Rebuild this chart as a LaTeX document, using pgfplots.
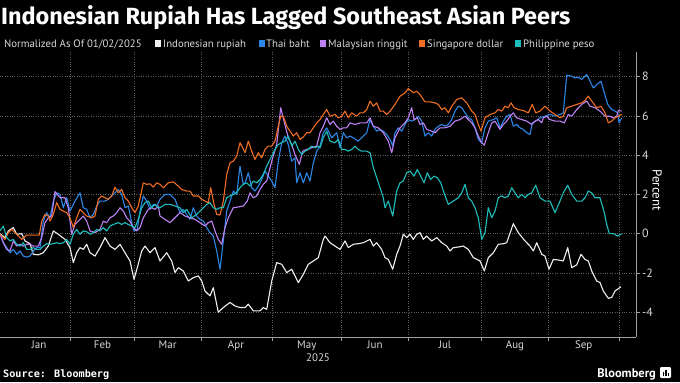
\documentclass[border=0pt]{standalone}
\usepackage{pgfplots}
\pgfplotsset{compat=1.18}
\usepackage{fontspec}
\setmainfont{PT Sans}
\newfontfamily\titlefont{Fira Sans}
\newfontfamily\monofont{DejaVu Sans Mono}
\definecolor{idr}{RGB}{240,240,240}
\definecolor{thb}{RGB}{45,135,230}
\definecolor{myr}{RGB}{190,130,245}
\definecolor{sgd}{RGB}{240,110,35}
\definecolor{php}{RGB}{30,190,190}
\definecolor{gridc}{RGB}{95,95,95}
\definecolor{axc}{RGB}{160,160,160}
\definecolor{txt}{RGB}{215,215,215}
\begin{document}
\begin{tikzpicture}[x=1bp,y=1bp]
\fill[black] (0,0) rectangle (680,382);
\begin{axis}[at={(0bp,45bp)}, anchor=south west, scale only axis,
  width=636bp, height=285bp,
  xmin=0, xmax=636, ymin=-5.26, ymax=9.25,
  axis x line=bottom, axis y line=right,
  axis line style={-, draw=axc, line width=0.6bp},
  tick align=outside, major tick length=3.5bp,
  tick style={draw=axc, line width=0.6bp},
  xtick={70.7,134.4,200.8,271.9,341.7,408.5,481.4,548.6,618.8},
  xticklabels={},
  extra x ticks={39,102.5,167.6,236,306.8,375,445,515,583.7},
  extra x tick labels={Jan,Feb,Mar,Apr,May,Jun,Jul,Aug,Sep},
  extra x tick style={major tick length=0pt, grid=none, tick style={draw=none}},
  ytick={-4,-2,0,2,4,6,8},
  yticklabels={-4,-2,0,2,4,6,8},
  xmajorgrids, ymajorgrids,
  grid style={gridc, dotted, line width=0.5bp},
  ticklabel style={font=\fontsize{11}{13}\selectfont, text=txt},
  yticklabel style={font=\fontsize{12}{14}\selectfont, xshift=-1bp},
  every axis plot/.append style={line width=1.1bp, line join=round},
  clip=false,
]
\addplot[idr] coordinates {(0,0) (5,-0.2) (8.3,0.14) (13.3,0.31) (16.7,-0.03) (21.7,0) (25,-0.37) (30,-0.51) (33.3,-1.05) (38.3,-1.08) (43.3,-0.97) (48.3,-0.63) (53.3,0.14) (58.3,-0.03) (65,-0.29) (70,-0.71) (73.3,-1.47) (76.7,-0.97) (80,-0.71) (83.3,-0.8) (86.7,-0.54) (90,-0.97) (95,-1.14) (100,-0.71) (105,-0.2) (110,-0.63) (115,-0.8) (120,-0.54) (125,-0.97) (130,-1.39) (134,-2.32) (137.3,-1.73) (141.7,-0.88) (145,-0.63) (150,-0.97) (155,-0.71) (160,-1.39) (166.7,-0.97) (171.7,-1.39) (175,-1.98) (178.3,-1.73) (183.3,-1.9) (188.3,-2.41) (193.3,-2.24) (198.3,-2.15) (201.7,-2.41) (205,-2.92) (210,-3.17) (213.3,-2.75) (218.3,-4.0) (223.3,-3.76) (230,-3.5) (235,-3.68) (240,-3.76) (245,-3.76) (248.3,-3.59) (253.3,-3.93) (260,-3.93) (263.3,-3.76) (266.7,-3.85) (271.7,-2.41) (276.7,-1.47) (281.7,-1.56) (286.7,-1.98) (291.7,-1.81) (298.3,-2.49) (303.3,-2.07) (308.3,-1.56) (313.3,-1.39) (318.3,-1.22) (323.3,-0.29) (325,-0.12) (330,-0.46) (335,-0.63) (340,-0.8) (345,-0.37) (348.3,-0.71) (353.3,-0.54) (358.3,-0.51) (363.3,-0.46) (370,-0.29) (373.3,-0.63) (376.7,-0.46) (381.7,-0.8) (385,-1.22) (388.3,-1.31) (392.7,-1.81) (396.7,-1.05) (400,-0.63) (403.3,-0.03) (406.7,-0.2) (410,-0.03) (413.3,-0.29) (416.7,-0.03) (420,0.05) (423.3,-0.29) (426.7,-0.12) (431.7,-0.37) (436.7,-0.2) (441.7,-0.46) (446.7,-0.63) (450,-0.88) (453.3,-0.71) (458.3,-0.68) (463.3,-0.63) (468.3,-0.8) (473.3,-1.22) (480,-1.39) (484.3,-1.9) (488.3,-1.22) (493.3,-0.97) (498.3,-0.54) (503.3,-0.51) (506.7,-0.46) (513.3,0.51) (518.3,0.05) (525,-0.37) (530,-0.63) (533.3,-0.88) (536.7,-0.46) (541.7,-1.05) (545,-1.14) (549,-1.81) (553.3,-1.31) (558.3,-1.34) (563.3,-1.39) (567.7,-0.71) (571.7,-1.73) (576.7,-1.59) (581,-1.05) (585,-1.31) (588.3,-1.39) (591.7,-1.9) (596.7,-2.41) (600,-2.49) (603.3,-2.92) (608.3,-3.29) (611.7,-3.25) (615,-2.92) (621,-2.7)};
\addplot[thb] coordinates {(0,0) (3.3,-0.46) (6.7,-0.71) (10,-0.97) (13.3,-0.8) (16.7,-1.05) (20,-0.88) (23.3,-1.14) (26.7,-1.19) (30,-1.14) (33.3,-0.88) (36.7,-0.71) (40,-0.71) (43.3,0.64) (46.7,1.07) (50,0.81) (53.3,1.66) (56.7,2.08) (60,2.0) (63.3,1.32) (66.7,1.83) (70,1.15) (75,1.66) (80,2.08) (83.3,1.32) (86.7,1.24) (90,0.81) (93.3,0.98) (96.7,1.41) (100,1.66) (105,1.66) (108.3,1.75) (111.7,1.92) (115,2.08) (118.3,2.25) (121.7,2.0) (125,1.32) (128.3,1.41) (131.7,0.56) (134,0.14) (137.3,0.22) (140,1.15) (143.3,1.92) (146.7,1.66) (150,1.24) (153.3,1.49) (156.7,1.41) (160,1.75) (165,2.0) (170,2.0) (175,1.75) (180,1.07) (183.3,1.24) (186.7,0.98) (190,0.73) (193.3,1.32) (196.7,0.9) (200,0.73) (203.3,0.64) (206.7,0.31) (210,0.05) (213.3,-0.12) (216.7,-0.88) (220,-1.81) (223.3,-0.37) (226.7,1.15) (230,1.66) (233.3,2.17) (236.7,2.0) (240,3.44) (243.3,2.51) (245,2.59) (248.3,3.1) (251.7,2.34) (255,2.17) (258.3,2.42) (261.7,2.76) (265,3.19) (268.3,2.93) (271.7,2.68) (275,2.34) (278.3,3.69) (281.7,4.63) (285,4.97) (288.3,4.54) (291.7,3.69) (295,3.86) (296.7,2.59) (300,3.1) (303.3,2.59) (306.7,3.1) (310,2.68) (313.3,3.61) (316.7,4.2) (320,4.46) (323.3,5.14) (326.7,5.39) (331.7,4.88) (336.7,5.14) (340,4.37) (343.3,5.14) (346.7,4.88) (350,4.97) (353.3,4.88) (358.3,4.71) (363.3,4.97) (366.7,5.14) (370,5.81) (373.3,5.47) (376.7,5.22) (380,5.31) (383.3,5.22) (386.7,5.05) (390,4.8) (392.7,4.46) (395,5.14) (398.3,5.39) (401.7,5.22) (405,5.56) (408.3,5.81) (411.7,5.73) (415,5.81) (418.3,5.98) (421.7,5.73) (425,4.97) (428.3,5.14) (431.7,4.97) (435,5.31) (438.3,5.47) (441.7,5.56) (445,5.47) (448.3,5.56) (451.7,5.81) (455,6.24) (458.3,6.49) (461.7,6.41) (465,6.15) (468.3,5.9) (471.7,5.81) (475,5.39) (478.3,4.8) (481.7,4.63) (485,5.39) (488.3,5.73) (493.3,5.81) (496.7,5.9) (500,5.39) (503.3,5.73) (506.7,5.98) (510,6.07) (513.3,5.47) (516.7,5.56) (520,5.39) (523.3,5.31) (526.7,5.14) (530,5.05) (532.3,5.64) (535.7,5.73) (540,5.9) (545,5.98) (550,6.07) (555,5.98) (560,6.07) (563.3,6.15) (566.7,8.07) (571.7,8.02) (575,7.93) (578.3,7.97) (581.7,7.85) (586.7,8.1) (590,7.76) (593.3,7.42) (596.7,7.59) (601,7.76) (604.3,7.17) (607.7,6.58) (611.7,6.32) (615,6.24) (617.7,6.15) (619,5.64) (621.7,5.9)};
\addplot[myr] coordinates {(0,0) (3.3,-0.46) (6.7,-0.8) (10,-0.88) (13.3,-0.37) (16.7,-0.63) (20,-0.54) (23.3,-0.63) (26.7,-0.54) (30,-0.54) (33.3,-0.63) (38.3,-0.63) (41.7,-0.2) (45,0.56) (48.3,0.81) (51.7,0.9) (55,2.14) (60,1.83) (65,1.83) (68.3,1.32) (71.7,-0.03) (75,0.47) (80,0.73) (83.3,0.9) (86.7,0.64) (90,0.14) (95,0.05) (100,0.22) (103.3,0.64) (106.7,0.56) (110,0.81) (113.3,0.9) (116.7,1.07) (120,1.32) (123.3,1.15) (126.7,0.81) (130,0.64) (133.3,0.31) (136.7,0.14) (140,0.31) (143.3,0.81) (148.3,1.24) (151.7,1.32) (155,1.24) (158.3,1.41) (160,0.9) (165,0.73) (170,0.56) (175,0.81) (180,1.07) (185,0.9) (190,0.81) (195,0.73) (200,0.56) (205,0.39) (208.3,0.56) (211.7,0.64) (215,0.14) (218.3,-0.29) (221.7,-0.54) (225,0.31) (228.3,0.81) (233.3,1.32) (238.3,1.36) (243.3,1.41) (247.3,1.66) (250,2.08) (253.3,1.83) (256.7,1.92) (260,2.25) (263.3,2.51) (266.7,2.68) (271.7,3.69) (276.7,4.54) (280.7,6.41) (284,5.73) (288.3,4.88) (291.7,4.54) (295,4.03) (299.3,3.53) (302.7,4.2) (306.7,4.29) (311.7,4.37) (316.7,4.46) (320,5.14) (323.3,5.47) (326.7,5.9) (330,5.56) (333.3,5.73) (336.7,5.47) (340,5.31) (343.3,5.39) (346.7,5.39) (350,5.64) (355,5.56) (360,5.64) (366.7,5.64) (370,5.9) (373.3,5.47) (378.3,5.39) (383.3,5.14) (388.3,4.71) (391.7,4.12) (395,4.88) (400,5.39) (405,5.64) (408.3,5.9) (411.7,6.41) (414,5.81) (417.3,5.9) (420,5.56) (423.3,5.64) (426.7,5.31) (431.7,5.22) (435,5.14) (440,5.39) (445,5.39) (450,5.47) (455,5.73) (460,5.81) (465,5.98) (468.3,5.81) (471.7,5.64) (475,5.39) (478.3,4.97) (481.7,4.63) (484.3,4.51) (488.3,5.14) (491.7,5.64) (495,5.73) (500,5.31) (503.3,5.56) (506.7,5.73) (510,5.98) (513.3,6.15) (516.7,5.9) (521.7,5.81) (526.7,5.73) (531.7,5.56) (535,5.73) (538.3,5.81) (541.7,5.64) (543.3,5.9) (546.7,5.98) (550,5.81) (555,5.73) (560,5.73) (564.3,5.64) (568.3,6.07) (571.7,5.98) (576.7,6.32) (581.7,6.58) (586.7,6.75) (590,6.49) (595,6.41) (600,6.24) (605,5.98) (610,5.98) (613.3,5.9) (616.7,5.98) (618.3,6.27) (621.7,6.24)};
\addplot[sgd] coordinates {(0,-0.03) (5,-0.29) (8.3,0.05) (11.7,0.22) (16.7,-0.03) (21.7,-0.29) (26.7,-0.07) (33.3,-0.07) (39.3,-0.07) (41.7,0.64) (45,0.98) (48.3,0.9) (50,0.64) (53.3,0.98) (56.7,1.58) (60,1.24) (63.3,1.15) (66.7,1.07) (70,0.81) (73.3,0.31) (76.7,0.81) (80,1.24) (83.3,1.07) (86.7,0.9) (91.7,0.81) (95,0.9) (98.3,1.75) (101.7,1.92) (105,1.83) (108.3,1.75) (111.7,1.92) (115,2.37) (118.3,2.08) (121.7,2.25) (125,1.83) (128.3,1.66) (131.7,1.32) (135,1.07) (138.3,1.41) (143.3,2.59) (146.7,2.51) (150,2.54) (153.3,2.37) (156.7,2.59) (160,2.51) (163.3,2.34) (168.3,2.59) (173.3,2.64) (178.3,2.42) (181.7,2.25) (186.7,2.17) (190,2.17) (193.3,1.92) (198.3,1.92) (201.7,1.75) (205,1.66) (208.3,1.58) (210.7,2.34) (213.3,1.66) (216.7,0.98) (220,0.95) (223.3,1.66) (226.7,3.02) (230,3.61) (233.3,3.69) (236.7,3.95) (240,4.63) (242.7,4.37) (245,4.12) (248.3,4.71) (251.7,4.2) (255,3.78) (258.3,4.12) (261.7,3.86) (265,4.29) (268.3,4.46) (271.7,4.46) (275,4.71) (278.3,5.47) (280.7,5.98) (283.3,5.98) (286.7,5.47) (290,5.22) (293.3,4.97) (296.7,5.14) (300,4.8) (303.3,4.92) (306.7,5.14) (310,5.14) (313.3,5.39) (316.7,5.64) (320,5.81) (323.3,6.07) (326.7,6.32) (330,5.98) (335,6.07) (338.3,5.9) (341.7,5.98) (345,6.24) (348.3,5.9) (351.7,6.15) (356.7,5.98) (360,6.15) (363.3,6.15) (366.7,6.32) (370,6.75) (373.3,6.49) (376.7,6.66) (380,6.24) (383.3,6.24) (386.7,6.07) (390,6.24) (395,6.58) (400,7.0) (405,7.17) (408.3,7.39) (413.3,7.17) (416.7,7.25) (420,7.08) (425,6.71) (430,6.71) (435,6.66) (438.3,6.58) (441.7,6.32) (445,6.41) (448.3,6.15) (451.7,6.49) (456.7,6.83) (461.7,6.92) (466.7,6.66) (471.7,6.24) (475,6.07) (478.3,5.56) (481,5.22) (485,5.9) (490,6.07) (495,6.15) (498.3,6.32) (501.7,6.24) (505,6.49) (508.3,6.41) (511,6.66) (514.3,6.41) (518.3,6.32) (523.3,6.27) (528.3,6.15) (532.3,6.58) (535.7,6.15) (540,6.24) (545,6.49) (550,6.24) (555,6.07) (560,5.9) (563.3,5.98) (566.7,6.41) (571.7,6.49) (576.7,6.58) (581.7,6.66) (585,6.78) (588.3,7.0) (591.7,6.75) (596.7,6.41) (601,6.49) (605,6.15) (608.3,5.64) (611.7,5.73) (615,5.9) (618.3,5.98) (621.7,6.07)};
\addplot[php] coordinates {(0,0.14) (3.3,0.39) (6.7,-0.2) (10,-0.37) (13.3,-0.29) (16.7,-0.54) (20,-0.63) (23.3,-0.46) (26.7,-0.8) (30,-0.8) (33.3,-0.71) (36.7,-0.8) (40,-0.8) (43.3,-0.63) (46.7,-0.51) (50,-0.54) (53.3,-0.51) (56.7,-0.46) (60,-0.51) (63.3,-0.46) (66.7,-0.29) (70,-0.54) (73.3,-0.03) (76.7,0.22) (80,-0.03) (83.3,0.14) (86.7,0.1) (90,-0.03) (93.3,0.05) (96.7,0.22) (100,0.14) (103.3,0.31) (106.7,0.14) (110,0.39) (113.3,0.47) (118.3,0.56) (121.7,0.47) (125,0.56) (128.3,0.47) (131.7,0.39) (135,0.31) (138.3,0.73) (141.7,1.32) (145,1.58) (148.3,1.66) (151.7,1.32) (155,1.49) (158.3,1.32) (160,1.32) (165,1.49) (170,1.49) (175,1.41) (180,1.32) (183.3,1.07) (186.7,1.24) (191.7,0.81) (196.7,0.98) (201.7,1.24) (206.7,1.49) (210,1.58) (213.3,1.32) (216.7,1.24) (220,1.32) (223.3,1.32) (226.7,1.83) (230,1.92) (233.3,2.0) (236.7,2.08) (240,2.34) (243.3,2.51) (246.7,2.59) (250,2.42) (253.3,2.68) (256.7,2.59) (260,2.76) (263.3,3.02) (266.7,3.44) (271.7,3.95) (275,4.29) (278.3,4.54) (281.7,4.63) (285,4.71) (288.3,4.97) (291.7,4.46) (295,4.71) (298.3,4.29) (301.7,4.03) (305,4.2) (308.3,4.29) (311.7,4.46) (315,4.37) (318.3,4.46) (320,4.37) (323.3,4.88) (326.7,5.22) (330,4.71) (335,4.63) (338.3,4.8) (341.7,4.29) (345,4.29) (348.3,4.2) (351.7,4.29) (355,4.46) (358.3,4.29) (361.7,4.2) (366.7,4.2) (370,4.12) (373.3,3.36) (376.7,2.85) (380,2.34) (383.3,1.83) (385,1.32) (388.3,1.66) (392.7,0.9) (396.7,2.17) (400,2.59) (403.3,2.68) (406.7,3.1) (410,3.19) (414,2.93) (417.3,3.27) (420.7,2.93) (424,2.59) (427.3,3.1) (430.7,2.76) (434,2.93) (437.3,2.85) (440.7,2.59) (444,2.08) (448.3,1.49) (453.3,1.66) (458.3,1.83) (461.7,2.08) (465,2.51) (468.3,1.83) (471.7,1.66) (475,1.32) (478.3,0.81) (481.7,-0.29) (485,0.05) (488.3,1.32) (491.7,0.81) (495,1.15) (498.3,1.83) (501.7,1.92) (505,1.83) (508.3,1.92) (511.7,2.34) (515,2.08) (518.3,1.83) (521.7,2.0) (525,1.83) (528.3,2.0) (531.7,2.08) (535.7,2.47) (540,1.83) (545,1.66) (550,1.66) (555,1.07) (560,1.66) (563.3,2.08) (567.7,2.47) (571.7,2.0) (576.7,1.66) (581.7,1.66) (585,1.83) (588.3,2.17) (591.7,2.08) (595,1.83) (600,1.83) (604.3,1.07) (606.7,0.47) (609.3,0) (613.3,0) (617.7,-0.12) (621.7,0)};
\end{axis}
% title and legend
\node[anchor=base west, inner sep=0, text=white, font=\titlefont\bfseries\fontsize{23.5}{26}\selectfont] at (1,358) {Indonesian Rupiah Has Lagged Southeast Asian Peers};
\begin{scope}[every node/.style={anchor=base west, inner sep=0, text=txt, font=\fontsize{10.8}{12}\selectfont}]
\node at (4,335) {Normalized As Of 01/02/2025};
\fill[idr] (155,335) rectangle ++(6,7);
\node at (163,335) {Indonesian rupiah};
\fill[thb] (258.5,335) rectangle ++(6,7);
\node at (266,335) {Thai baht};
\fill[myr] (320,335) rectangle ++(6,7);
\node at (328,335) {Malaysian ringgit};
\fill[sgd] (418.5,335) rectangle ++(6,7);
\node at (427,335) {Singapore dollar};
\fill[php] (515,335) rectangle ++(6,7);
\node at (523,335) {Philippine peso};
\end{scope}
\node[rotate=-90, text=white, font=\fontsize{13}{15}\selectfont] at (657,192) {Percent};
\node[text=txt, font=\fontsize{11}{13}\selectfont] at (318,24) {2025};
\node[anchor=base west, inner sep=0, text=white, font=\monofont\bfseries\fontsize{10.2}{12}\selectfont] at (3,5) {Source: Bloomberg};
\node[anchor=base east, inner sep=0, text=white, font=\bfseries\fontsize{12.5}{14}\selectfont] at (656,5) {Bloomberg};
\fill[white, rounded corners=1.2bp] (660,4) rectangle (671,15);
\fill[black] (662.5,6) rectangle (664,10);
\fill[black] (665,6) rectangle (666.5,12);
\fill[black] (667.5,6) rectangle (669,9);
\pgfresetboundingbox
\useasboundingbox (0,0) rectangle (680,382);
\end{tikzpicture}
\end{document}
